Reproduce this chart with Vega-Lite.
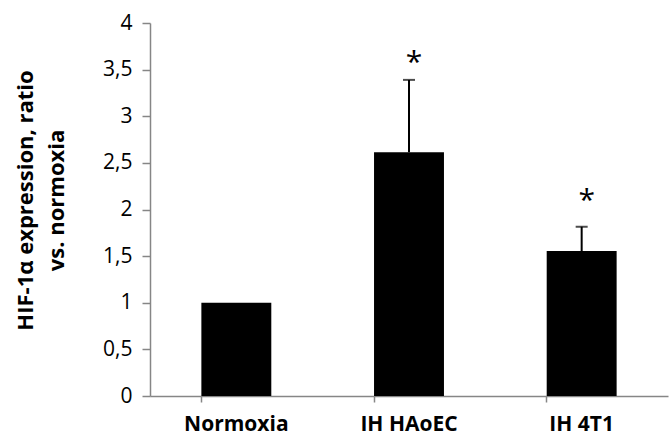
{
  "$schema": "https://vega.github.io/schema/vega-lite/v6.json",
  "width": 518,
  "height": 373,
  "autosize": {"type": "none"},
  "padding": {"left": 150, "top": 23, "right": 1, "bottom": 49},
  "background": "white",
  "config": {
    "view": {"stroke": null},
    "font": "Open Sans",
    "axis": {"grid": false, "domainColor": "#868686", "tickColor": "#868686", "labelColor": "#000000", "titleColor": "#000000"}
  },
  "data": {
    "values": [
      {"group": "Normoxia", "value": 1.0, "upper": null, "star": "", "star_y": null},
      {"group": "IH HAoEC", "value": 2.615, "upper": 3.39, "star": "*", "star_y": 3.65},
      {"group": "IH 4T1", "value": 1.555, "upper": 1.815, "star": "*", "star_y": 2.166}
    ]
  },
  "encoding": {
    "x": {
      "field": "group", "type": "nominal", "sort": null,
      "scale": {"paddingInner": 0.595, "paddingOuter": 0.2975},
      "axis": {"title": null, "labelAngle": 0, "labelFont": "Open Sans", "labelFontWeight": "bold", "labelFontSize": 21, "labelPadding": 11, "tickSize": 6, "bandPosition": 0, "domainWidth": 1.5, "tickWidth": 1.5}
    }
  },
  "layer": [
    {
      "mark": {"type": "bar", "color": "#000000"},
      "encoding": {
        "y": {
          "field": "value", "type": "quantitative",
          "scale": {"domain": [0, 4], "nice": false},
          "axis": {
            "values": [0, 0.5, 1, 1.5, 2, 2.5, 3, 3.5, 4],
            "labelExpr": "replace(toString(datum.value), '.', ',')",
            "labelFontSize": 21, "labelPadding": 10, "tickSize": 8,
            "domainWidth": 1.5, "tickWidth": 1.5,
            "title": ["HIF-1α expression, ratio", "vs. normoxia"],
            "titleFontSize": 22, "titleFontWeight": "bold", "titleLineHeight": 31,
            "titleX": -125, "titleY": 177, "titleBaseline": "middle", "titleAlign": "center", "titleAngle": -90
          }
        }
      }
    },
    {
      "mark": {"type": "rule", "color": "#000000", "strokeWidth": 2},
      "transform": [{"filter": "datum.upper != null"}],
      "encoding": {
        "y": {"field": "value", "type": "quantitative"},
        "y2": {"field": "upper"}
      }
    },
    {
      "mark": {"type": "tick", "color": "#000000", "orient": "horizontal", "size": 12, "thickness": 2},
      "transform": [{"filter": "datum.upper != null"}],
      "encoding": {
        "y": {"field": "upper", "type": "quantitative"}
      }
    },
    {
      "mark": {"type": "text", "fontSize": 30, "fontWeight": "normal", "color": "#000000", "baseline": "middle", "dx": 5, "dy": 7},
      "transform": [{"filter": "datum.upper != null"}],
      "encoding": {
        "y": {"field": "star_y", "type": "quantitative"},
        "text": {"field": "star"}
      }
    }
  ]
}
